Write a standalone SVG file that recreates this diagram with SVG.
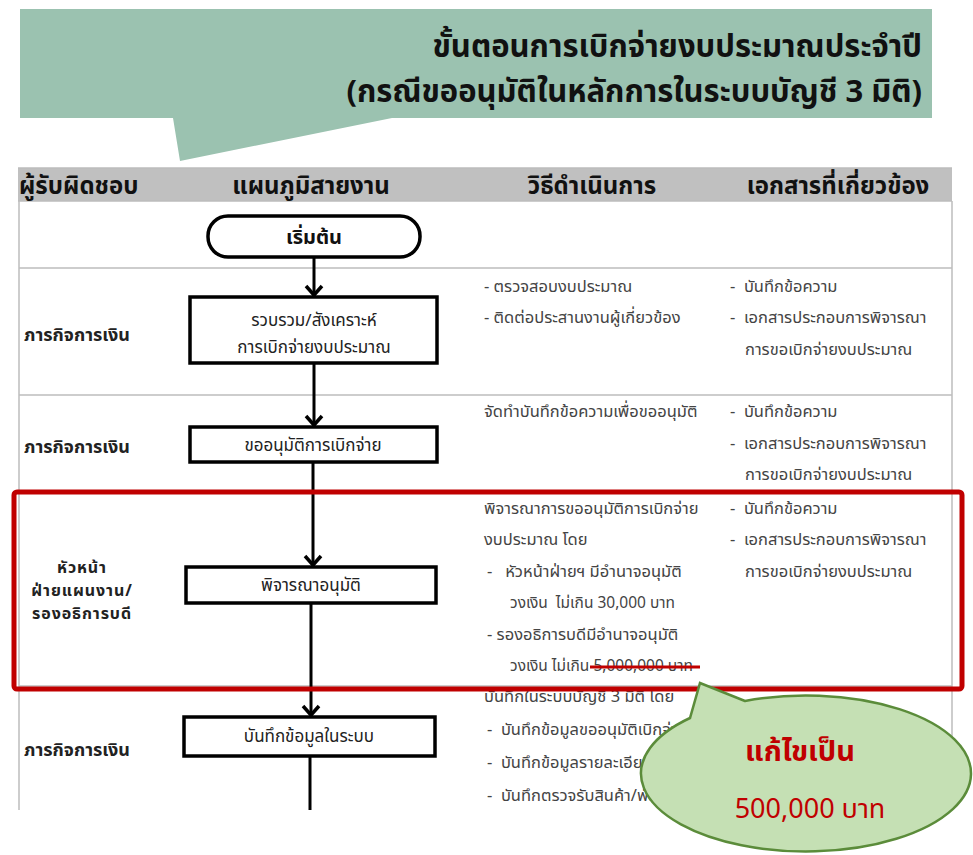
<svg xmlns="http://www.w3.org/2000/svg" width="973" height="855" viewBox="0 0 973 855">
  <style>
    .th { font-family: "Noto Sans Thai", "Noto Sans", "DejaVu Sans", sans-serif; }
    .title { font-size: 31px; font-weight: bold; fill: #111; }
    .head { font-size: 24px; font-weight: bold; fill: #111; }
    .role { font-size: 18px; font-weight: bold; fill: #222; }
    .role-s { font-size: 16px; letter-spacing: 0.9px; }
    .box { fill: #fff; stroke: #000; stroke-width: 3.5; }
    .btxt { font-size: 17px; fill: #222; text-anchor: middle; }
    .desc { font-size: 16.5px; fill: #444; }
    .num { font-size: 15.5px; }
    .grid { stroke: #bdbdbd; stroke-width: 1.5; fill: none; }
    .flow { stroke: #000; stroke-width: 3; fill: none; }
    .head-arrow { stroke: #000; stroke-width: 3.5; fill: none; stroke-linejoin: miter; }
  </style>

  <!-- title banner with pointer -->
  <g id="title-banner">
    <path d="M20,9 H932 V118 H392 L180,161 L173,118 H20 Z" fill="#9bc2b0"/>
    <text class="th title" x="922" y="57" text-anchor="end">ขั้นตอนการเบิกจ่ายงบประมาณประจำปี</text>
    <text class="th title" x="922" y="102" text-anchor="end">(กรณีขออนุมัติในหลักการในระบบบัญชี 3 มิติ)</text>
  </g>

  <!-- table frame -->
  <g id="table">
    <rect x="18" y="168" width="934" height="33" fill="#c0c0c0"/>
    <line class="grid" x1="18" y1="168" x2="952" y2="168"/>
    <line class="grid" x1="18" y1="201" x2="952" y2="201"/>
    <line class="grid" x1="19" y1="201" x2="19" y2="810"/>
    <line class="grid" x1="952" y1="201" x2="952" y2="810"/>
    <line class="grid" x1="19" y1="268" x2="952" y2="268"/>
    <line class="grid" x1="19" y1="395" x2="952" y2="395"/>
    <line class="grid" x1="19" y1="493" x2="952" y2="493"/>
    <line class="grid" x1="19" y1="686" x2="952" y2="686"/>
    <text class="th head" x="19" y="194">ผู้รับผิดชอบ</text>
    <text class="th head" x="311" y="194" text-anchor="middle">แผนภูมิสายงาน</text>
    <text class="th head" x="592" y="194" text-anchor="middle">วิธีดำเนินการ</text>
    <text class="th head" x="838" y="194" text-anchor="middle">เอกสารที่เกี่ยวข้อง</text>
  </g>

  <!-- responsible units -->
  <g id="roles">
    <text class="th role" x="24" y="341">ภารกิจการเงิน</text>
    <text class="th role" x="24" y="453">ภารกิจการเงิน</text>
    <text class="th role role-s" x="82" y="573" text-anchor="middle">หัวหน้า</text>
    <text class="th role role-s" x="82" y="596" text-anchor="middle">ฝ่ายแผนงาน/</text>
    <text class="th role role-s" x="82" y="619" text-anchor="middle">รองอธิการบดี</text>
    <text class="th role" x="24" y="756">ภารกิจการเงิน</text>
  </g>

  <!-- connectors -->
  <g id="connectors">
    <line class="flow" x1="314" y1="257" x2="314" y2="296"/>
    <polyline class="head-arrow" points="306,286 314,295 322,286"/>
    <line class="flow" x1="314" y1="363" x2="314" y2="426"/>
    <polyline class="head-arrow" points="306,416 314,425 322,416"/>
    <line class="flow" x1="313" y1="462" x2="313" y2="566"/>
    <polyline class="head-arrow" points="305,556 313,565 321,556"/>
    <line class="flow" x1="311" y1="603" x2="311" y2="716"/>
    <polyline class="head-arrow" points="303,706 311,715 319,706"/>
    <line class="flow" x1="310" y1="756" x2="310" y2="810"/>
  </g>

  <!-- flow chart nodes -->
  <g id="start">
    <rect x="208" y="216" width="212" height="41" rx="20" ry="20" fill="#fff" stroke="#000" stroke-width="3.5"/>
    <text class="th" x="314" y="244" font-size="20" font-weight="bold" text-anchor="middle" fill="#111">เริ่มต้น</text>
  </g>
  <g id="collect">
    <rect class="box" x="190" y="297" width="247" height="66"/>
    <text class="th btxt" x="314" y="326">รวบรวม/สังเคราะห์</text>
    <text class="th btxt" x="314" y="353">การเบิกจ่ายงบประมาณ</text>
  </g>
  <g id="request">
    <rect class="box" x="190" y="427" width="247" height="35"/>
    <text class="th btxt" x="313" y="451">ขออนุมัติการเบิกจ่าย</text>
  </g>
  <g id="approve">
    <rect class="box" x="186" y="567" width="250" height="36"/>
    <text class="th btxt" x="311" y="591">พิจารณาอนุมัติ</text>
  </g>
  <g id="record">
    <rect class="box" x="184" y="717" width="251" height="39"/>
    <text class="th btxt" x="309" y="742">บันทึกข้อมูลในระบบ</text>
  </g>

  <!-- procedure column -->
  <g id="procedures">
    <text class="th desc" x="484" y="292">- ตรวจสอบงบประมาณ</text>
    <text class="th desc" x="484" y="323">- ติดต่อประสานงานผู้เกี่ยวข้อง</text>
    <text class="th desc" x="484" y="417">จัดทำบันทึกข้อความเพื่อขออนุมัติ</text>
    <text class="th desc" x="484" y="514">พิจารณาการขออนุมัติการเบิกจ่าย</text>
    <text class="th desc" x="484" y="545">งบประมาณ โดย</text>
    <text class="th desc" x="487" y="577" xml:space="preserve">-   หัวหน้าฝ่ายฯ มีอำนาจอนุมัติ</text>
    <text class="th desc num" x="510" y="608" xml:space="preserve">วงเงิน  ไม่เกิน 30,000 บาท</text>
    <text class="th desc" x="487" y="640">- รองอธิการบดีมีอำนาจอนุมัติ</text>
    <text class="th desc num" x="510" y="671">วงเงิน ไม่เกิน 5,000,000 บาท</text>
    <line x1="590" y1="667" x2="700" y2="667" stroke="#c00000" stroke-width="3"/>
    <text class="th desc" x="484" y="702">บันทึกในระบบบัญชี 3 มิติ โดย</text>
    <text class="th desc" x="487" y="735" xml:space="preserve">-  บันทึกข้อมูลขออนุมัติเบิกจ่าย</text>
    <text class="th desc" x="487" y="768" xml:space="preserve">-  บันทึกข้อมูลรายละเอียด</text>
    <text class="th desc" x="487" y="801" xml:space="preserve">-  บันทึกตรวจรับสินค้า/พัสดุ</text>
  </g>

  <!-- related documents column -->
  <g id="documents">
    <text class="th desc" x="730" y="292" xml:space="preserve">-  บันทึกข้อความ</text>
    <text class="th desc" x="730" y="323" xml:space="preserve">-  เอกสารประกอบการพิจารณา</text>
    <text class="th desc" x="745" y="355">การขอเบิกจ่ายงบประมาณ</text>
    <text class="th desc" x="730" y="417" xml:space="preserve">-  บันทึกข้อความ</text>
    <text class="th desc" x="730" y="449" xml:space="preserve">-  เอกสารประกอบการพิจารณา</text>
    <text class="th desc" x="745" y="480">การขอเบิกจ่ายงบประมาณ</text>
    <text class="th desc" x="730" y="514" xml:space="preserve">-  บันทึกข้อความ</text>
    <text class="th desc" x="730" y="545" xml:space="preserve">-  เอกสารประกอบการพิจารณา</text>
    <text class="th desc" x="745" y="577">การขอเบิกจ่ายงบประมาณ</text>
  </g>

  <!-- highlight around the approval step -->
  <g id="highlight">
    <rect x="14" y="492" width="948" height="197" rx="3" ry="3" fill="none" stroke="#c00000" stroke-width="5"/>
  </g>

  <!-- correction callout -->
  <g id="callout">
    <path d="M745,701 L700,683 L690,718 A165,78 0 1 0 745,701 Z" fill="#c5e0b4" stroke="#5b8c3a" stroke-width="2.5"/>
    <text class="th" x="800" y="761" font-size="29" font-weight="bold" fill="#c00000" text-anchor="middle">แก้ไขเป็น</text>
    <text class="th" x="810" y="818" font-size="27" fill="#c00000" text-anchor="middle">500,000 บาท</text>
  </g>
</svg>
